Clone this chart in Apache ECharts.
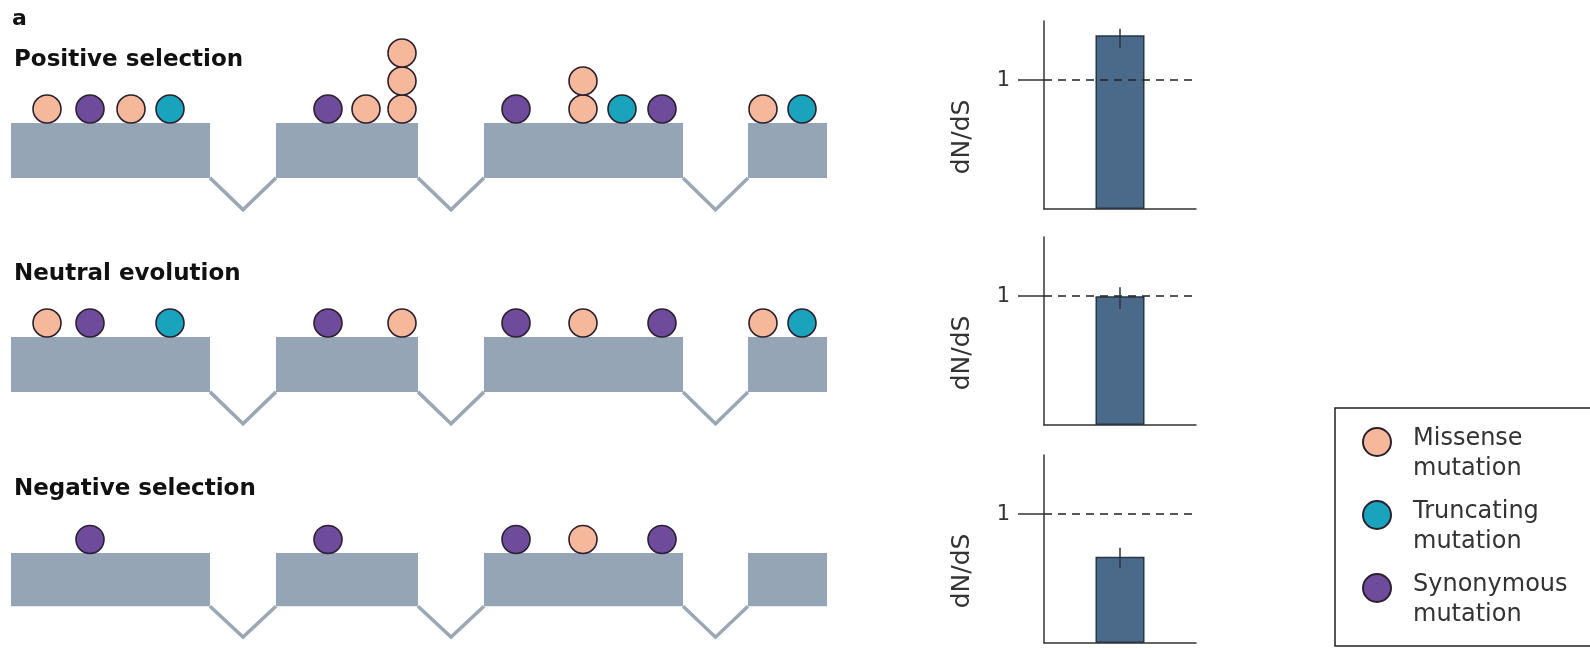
<!DOCTYPE html>
<html>
<head>
<meta charset="utf-8">
<script src="https://cdn.jsdelivr.net/npm/echarts@6/dist/echarts.min.js"></script>
<style>
  html, body { margin: 0; padding: 0; background: #ffffff; }
  #chart { width: 1590px; height: 648px; }
</style>
</head>
<body>
<div id="chart"></div>
<script>
// ---- data ----
const panelLabel = 'a';
const rowTitles = ['Positive selection', 'Neutral evolution', 'Negative selection'];
const mutationTypes = ['Missense\nmutation', 'Truncating\nmutation', 'Synonymous\nmutation'];
// exon spans along the gene (gene coordinate units)
const exons = [[0, 199], [265, 407], [473, 672], [737, 816]];
const geneLength = 816;
// mutation positions for each row (repeated positions stack up)
const missense = [[36, 120, 355, 391, 391, 391, 572, 572, 752], [36, 391, 572, 752], [572]];
const truncating = [[159, 611, 791], [159, 791], []];
const synonymous = [[79, 317, 505, 651], [79, 317, 505, 651], [79, 317, 505, 651]];
// dN/dS ratio and its error range for each row
const dnds = [1.35, 1.0, 0.67];
const dndsLow = [1.25, 0.90, 0.58];
const dndsHigh = [1.40, 1.07, 0.74];
const ratioTicks = [1];
const ratioAxisName = 'dN/dS';

// ---- styling / layout ----
const FONT = 'DejaVu Sans';
const EXON_COLOR = '#95a5b5';
const INTRON_COLOR = '#9aa8b6';
const TYPE_COLORS = ['#f6b89a', '#19a3bd', '#6f4c9b'];
const OUTLINE = '#2b2030';
const BAR_COLOR = '#4b6a89';
const BAR_EDGE = '#263646';
const AXIS_COLOR = '#333333';
const EXON_DEPTH = 1.96;   // exon block height, in circle diameters
const INTRON_DIP = 3.1;    // depth of the intron chevron, in circle diameters
const rowExonTop = [123, 337, 556];
const barGridTop = [21, 237, 455];
const titleTop = [49, 263, 478];

const chart = echarts.init(document.getElementById('chart'), null, { renderer: 'canvas' });

const grids = [], xAxes = [], yAxes = [], series = [];

rowTitles.forEach((t, i) => {
  // gene structure grid: 1 y-unit = one mutation circle (28px)
  grids.push({ left: 11, width: 816, top: rowExonTop[i] - 98, height: 196 });
  xAxes.push({ gridIndex: i, type: 'value', min: 0, max: geneLength, show: false });
  yAxes.push({ gridIndex: i, type: 'value', min: -3.5, max: 3.5, show: false });
});

rowTitles.forEach((t, i) => {
  const g = 3 + i;
  grids.push({ left: 1044, width: 152, top: barGridTop[i], height: 188 });
  xAxes.push({
    gridIndex: g, type: 'category', data: [ratioAxisName],
    axisLine: { show: true, lineStyle: { color: AXIS_COLOR, width: 1.5 } },
    axisTick: { show: false }, axisLabel: { show: false }
  });
  yAxes.push({
    gridIndex: g, type: 'value', min: 0, max: 1.46, interval: 1,
    splitLine: { show: false },
    axisLine: { show: true, lineStyle: { color: AXIS_COLOR, width: 1.5 } },
    axisTick: { show: true, length: 26, customValues: ratioTicks, lineStyle: { color: AXIS_COLOR, width: 1.5 } },
    axisLabel: { customValues: ratioTicks, margin: 34, fontSize: 21, fontFamily: FONT, color: '#333' },
    name: ratioAxisName, nameLocation: 'middle', nameGap: 69,
    nameTextStyle: { fontSize: 25, fontFamily: FONT, color: '#333', padding: [0, 44, 0, 0] }
  });
});

// gene structure: exon blocks and intron chevrons
rowTitles.forEach((t, i) => {
  series.push({
    type: 'custom', xAxisIndex: i, yAxisIndex: i, silent: true, z: 1,
    data: exons,
    renderItem(params, api) {
      const a = api.coord([api.value(0), 0]);
      const b = api.coord([api.value(1), -EXON_DEPTH]);
      return { type: 'rect', shape: { x: a[0], y: a[1], width: b[0] - a[0], height: b[1] - a[1] },
               style: { fill: EXON_COLOR } };
    }
  });
  const introns = exons.slice(0, -1).map((e, k) => [e[1], exons[k + 1][0]]);
  series.push({
    type: 'custom', xAxisIndex: i, yAxisIndex: i, silent: true, z: 1,
    data: introns,
    renderItem(params, api) {
      const s = api.value(0), e = api.value(1);
      const pts = [[s, -EXON_DEPTH], [(s + e) / 2, -INTRON_DIP], [e, -EXON_DEPTH]].map(p => api.coord(p));
      return { type: 'polyline', shape: { points: pts },
               style: { fill: null, stroke: INTRON_COLOR, lineWidth: 3.5, lineJoin: 'miter' } };
    }
  });
});

// mutation circles, stacked where several hit the same position
rowTitles.forEach((t, i) => {
  const stack = {};
  [missense[i], truncating[i], synonymous[i]].forEach((positions, ti) => {
    const pts = positions.map(p => {
      const level = stack[p] || 0;
      stack[p] = level + 1;
      return [p, 0.5 + level];
    });
    series.push({
      type: 'scatter', name: mutationTypes[ti], xAxisIndex: i, yAxisIndex: i, z: 3,
      symbol: 'circle', symbolSize: 28, data: pts, silent: true,
      itemStyle: { color: TYPE_COLORS[ti], borderColor: OUTLINE, borderWidth: 1.6, opacity: 1 }
    });
  });
});

// dN/dS bars with error bars and the neutral reference line
rowTitles.forEach((t, i) => {
  const g = 3 + i;
  series.push({
    type: 'bar', xAxisIndex: g, yAxisIndex: g, barWidth: 49, silent: true,
    data: [dnds[i]],
    itemStyle: { color: BAR_COLOR, borderColor: BAR_EDGE, borderWidth: 1.5 },
    markLine: {
      silent: true, symbol: ['none', 'none'], label: { show: false },
      lineStyle: { color: '#222', width: 1.5, type: [8, 6] },
      data: [{ yAxis: 1 }]
    }
  });
  series.push({
    type: 'custom', xAxisIndex: g, yAxisIndex: g, silent: true, z: 5,
    data: [[0, dndsLow[i], dndsHigh[i]]],
    renderItem(params, api) {
      const lo = api.coord([api.value(0), api.value(1)]);
      const hi = api.coord([api.value(0), api.value(2)]);
      return { type: 'line', shape: { x1: lo[0], y1: lo[1], x2: hi[0], y2: hi[1] },
               style: { stroke: BAR_EDGE, lineWidth: 1.5 } };
    }
  });
});

const titles = [{
  text: panelLabel, left: 12, top: 8, padding: 0,
  textStyle: { fontFamily: FONT, fontWeight: 'bold', fontSize: 22, color: '#111' }
}].concat(rowTitles.map((t, i) => ({
  text: t, left: 14, top: titleTop[i], padding: 0,
  textStyle: { fontFamily: FONT, fontWeight: 'bold', fontSize: 23, color: '#111' }
})));

chart.setOption({
  animation: false,
  backgroundColor: '#ffffff',
  title: titles,
  grid: grids,
  xAxis: xAxes,
  yAxis: yAxes,
  legend: {
    data: mutationTypes, orient: 'vertical', left: 1335, top: 408,
    selectedMode: false, itemWidth: 28, itemHeight: 28, itemGap: -1,
    padding: [-1, 30, 19, 27],
    borderColor: '#222', borderWidth: 1.5,
    // a short spacer line above each two-line label sits the text just below the icon's centre
    formatter: name => '{gap| }\n' + name.split('\n').map(s => '{t|' + s + '}').join('\n'),
    textStyle: {
      padding: [0, 0, 0, 17],
      rich: {
        gap: { fontSize: 10, lineHeight: 24 },
        t: { fontFamily: FONT, fontSize: 24, color: '#333', lineHeight: 30 }
      }
    }
  },
  series: series
});
</script>
</body>
</html>
